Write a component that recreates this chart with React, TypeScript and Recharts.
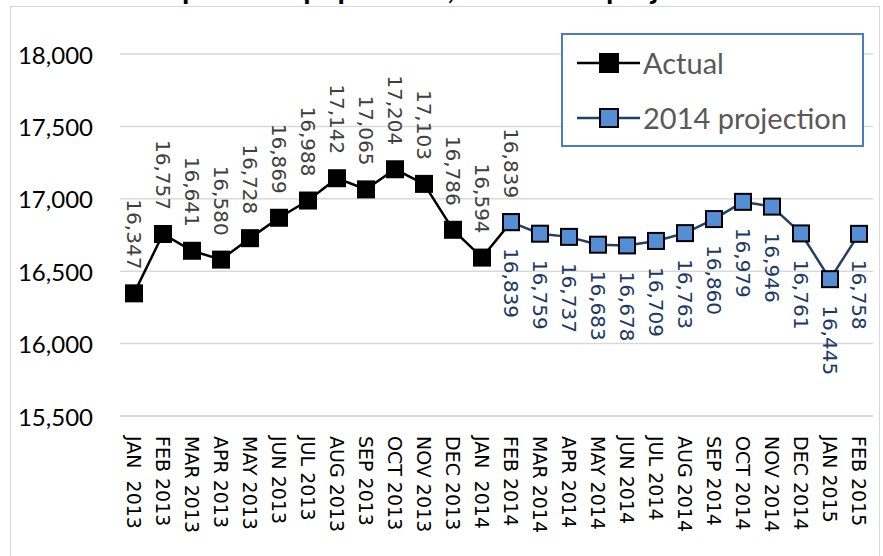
import React from 'react';
import { LineChart, Line, XAxis, YAxis, CartesianGrid } from 'recharts';

const months = [
  'JAN  2013', 'FEB 2013', 'MAR 2013', 'APR 2013', 'MAY 2013', 'JUN 2013', 'JUL 2013',
  'AUG 2013', 'SEP 2013', 'OCT 2013', 'NOV 2013', 'DEC 2013', 'JAN  2014', 'FEB 2014',
  'MAR 2014', 'APR 2014', 'MAY 2014', 'JUN 2014', 'JUL 2014', 'AUG 2014', 'SEP 2014',
  'OCT 2014', 'NOV 2014', 'DEC 2014', 'JAN 2015', 'FEB 2015',
];

// Jan 2013 - Feb 2014
const actualValues = [
  16347, 16757, 16641, 16580, 16728, 16869, 16988, 17142, 17065, 17204, 17103, 16786, 16594, 16839,
];

// Feb 2014 - Feb 2015
const projectionValues = [
  16839, 16759, 16737, 16683, 16678, 16709, 16763, 16860, 16979, 16946, 16761, 16445, 16758,
];

const yTicks = [15500, 16000, 16500, 17000, 17500, 18000];

const projStart = months.length - projectionValues.length;
const data = months.map((month, i) => ({
  month,
  actual: i < actualValues.length ? actualValues[i] : null,
  projection: i >= projStart ? projectionValues[i - projStart] : null,
}));

const fmt = (n: number) => n.toLocaleString('en-US');

const squareDot = (fill: string, prefix: string) => (props: any) => {
  const { cx, cy, index, value } = props;
  if (cx == null || cy == null || value == null) return <g key={`${prefix}-${index}`} />;
  return (
    <rect key={`${prefix}-${index}`} x={cx - 8} y={cy - 8} width={16} height={16}
      fill={fill} stroke="#000" strokeWidth={2} />
  );
};

const labelAbove = (props: any) => {
  const { x, y, value, index } = props;
  if (value == null) return <g key={`la-${index}`} />;
  const ty = y - 24;
  return (
    <text key={`la-${index}`} x={x} y={ty} transform={`rotate(90 ${x} ${ty})`} textAnchor="end"
      dominantBaseline="central" fontFamily="DejaVu Sans" fontSize={20} fill="#404040">
      {fmt(value)}
    </text>
  );
};

const labelBelow = (props: any) => {
  const { x, y, value, index } = props;
  if (value == null) return <g key={`lb-${index}`} />;
  const ty = y + 26;
  return (
    <text key={`lb-${index}`} x={x} y={ty} transform={`rotate(90 ${x} ${ty})`} textAnchor="start"
      dominantBaseline="central" fontFamily="DejaVu Sans" fontSize={20} fill="#203864">
      {fmt(value)}
    </text>
  );
};

const YTick = (props: any) => {
  const { y, payload } = props;
  return (
    <text x={93} y={y} textAnchor="end" dominantBaseline="central" fontFamily="Lato"
      fontSize={24} fill="#000">
      {fmt(payload.value)}
    </text>
  );
};

const XTick = (props: any) => {
  const { x, y, payload } = props;
  const ty = y + 12;
  return (
    <text x={x} y={ty} transform={`rotate(90 ${x} ${ty})`} textAnchor="start"
      dominantBaseline="central" fontFamily="DejaVu Sans" fontSize={19} fill="#000"
      style={{ whiteSpace: 'pre' }}>
      {payload.value}
    </text>
  );
};

function LegendRow({ color, fill, label }: { color: string; fill: string; label: string }) {
  return (
    <div style={{ display: 'flex', alignItems: 'center', height: 55 }}>
      <svg width={80} height={24}>
        <line x1={14} y1={12} x2={77} y2={12} stroke={color} strokeWidth={2.5} />
        <rect x={37} y={3} width={18} height={18} fill={fill} stroke="#000" strokeWidth={2} />
      </svg>
      <span style={{ fontFamily: 'Lato', fontSize: 29, color: '#595959' }}>{label}</span>
    </div>
  );
}

export default function App() {
  return (
    <div style={{ position: 'absolute', left: 0, top: 0, width: 883, height: 556, overflow: 'hidden', background: '#fff' }}>
      <div style={{ position: 'absolute', left: 10, top: 6, width: 868, height: 600, border: '1.5px solid #d9d9d9' }} />
      <svg width={883} height={20} style={{ position: 'absolute', left: 0, top: 0 }}>
        <text x={149} y={-1} fontFamily="Lato" fontWeight="bold" fontSize={30} fill="#000">
          Supervised population, actual and projection
        </text>
      </svg>
      <div style={{ position: 'absolute', left: 0, top: 0 }}>
        <LineChart width={883} height={556} data={data} margin={{ top: 54, right: 10, left: 0, bottom: 0 }}>
          <CartesianGrid vertical={false} stroke="#d9d9d9" strokeWidth={1.5} />
          <XAxis dataKey="month" interval={0} height={140} tickLine={false} padding={{ left: 14, right: 14 }}
            axisLine={{ stroke: '#d9d9d9', strokeWidth: 1.5 }} tick={<XTick />} />
          <YAxis domain={[15500, 18000]} ticks={yTicks} width={120} axisLine={false}
            tickLine={false} tick={<YTick />} />
          <Line dataKey="actual" stroke="#000" strokeWidth={2.5} isAnimationActive={false}
            dot={squareDot('#000', 'da')} activeDot={false} label={labelAbove} />
          <Line dataKey="projection" stroke="#243F60" strokeWidth={2.5} isAnimationActive={false}
            dot={squareDot('#558ED5', 'dp')} activeDot={false} label={labelBelow} />
        </LineChart>
      </div>
      <div style={{ position: 'absolute', left: 561, top: 33, width: 299, height: 110, border: '2px solid #4A7EBB', background: '#fff' }}>
        <LegendRow color="#000" fill="#000" label="Actual" />
        <LegendRow color="#243F60" fill="#558ED5" label="2014 projection" />
      </div>
    </div>
  );
}
